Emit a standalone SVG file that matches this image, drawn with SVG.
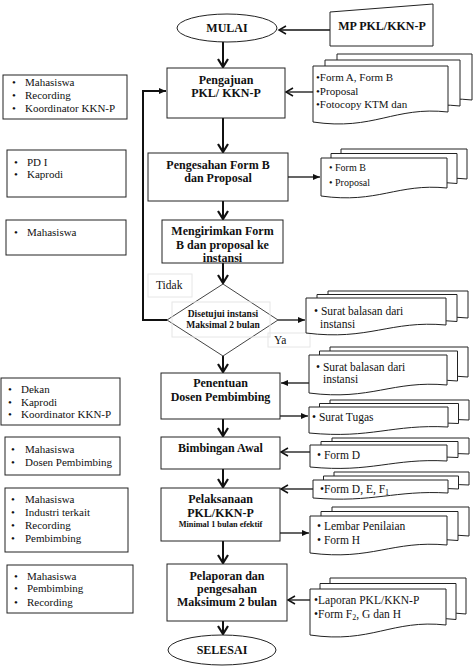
<svg xmlns="http://www.w3.org/2000/svg" width="474" height="671" viewBox="0 0 474 671">
<style>
.box{fill:#fff;stroke:#222;stroke-width:1}
.doc{fill:#fff;stroke:#222;stroke-width:1}
.faint{fill:none;stroke:#e6e6e6;stroke-width:1}
.b{font-family:"Liberation Serif",serif;font-weight:bold;font-size:12px;text-anchor:middle;fill:#111}
.t{font-family:"Liberation Serif",serif;font-size:11px;fill:#111}
.c{stroke:#111;fill:none}
.thick{stroke-width:2}
.thin{stroke-width:1.3}
</style>
<defs>
<marker id="chevD" markerUnits="userSpaceOnUse" viewBox="-11 -7 13 14" markerWidth="13" markerHeight="14" refX="0" refY="0" orient="auto">
<path d="M-8,-5 L0,0 L-8,5" fill="none" stroke="#111" stroke-width="2.2"/>
</marker>
<marker id="chev" markerUnits="userSpaceOnUse" viewBox="-10 -6 12 12" markerWidth="12" markerHeight="12" refX="0" refY="0" orient="auto">
<path d="M-7,-4 L0,0 L-7,4" fill="none" stroke="#111" stroke-width="1.5"/>
</marker>
<marker id="tri" markerUnits="userSpaceOnUse" viewBox="-8 -4 9 8" markerWidth="9" markerHeight="8" refX="0" refY="0" orient="auto">
<path d="M-7,-3 L0,0 L-7,3 Z" fill="#111"/>
</marker>
</defs>

<g id="connectors">
<line class="c thick" x1="223" y1="42" x2="223" y2="67" marker-end="url(#chevD)"/>
<line class="c thick" x1="223" y1="118" x2="223" y2="152" marker-end="url(#chevD)"/>
<line class="c thick" x1="223" y1="201" x2="223" y2="219" marker-end="url(#chevD)"/>
<line class="c thick" x1="223" y1="263" x2="223" y2="283" marker-end="url(#chevD)"/>
<line class="c thick" x1="223" y1="356" x2="223" y2="372" marker-end="url(#chevD)"/>
<line class="c thick" x1="223" y1="419" x2="223" y2="436" marker-end="url(#chevD)"/>
<line class="c thick" x1="223" y1="469" x2="223" y2="487" marker-end="url(#chevD)"/>
<line class="c thick" x1="223" y1="541" x2="223" y2="563" marker-end="url(#chevD)"/>
<line class="c thick" x1="223" y1="621" x2="223" y2="634" marker-end="url(#chevD)"/>
<line class="c thin" x1="330" y1="30" x2="279" y2="30" marker-end="url(#chev)"/>
<line class="c thin" x1="313" y1="92" x2="286" y2="92" marker-end="url(#chev)"/>
<polyline class="c thick" points="167,320 143,320 143,91 166,91" marker-end="url(#tri)"/>
<line class="c thin" x1="288" y1="177" x2="320" y2="177" marker-end="url(#tri)"/>
<line class="c thin" x1="278" y1="320" x2="305" y2="320" marker-end="url(#tri)"/>
<line class="c thin" x1="309" y1="383" x2="281" y2="383" marker-end="url(#tri)"/>
<line class="c thin" x1="280" y1="416" x2="308" y2="416" marker-end="url(#tri)"/>
<line class="c thin" x1="310" y1="452" x2="281" y2="452" marker-end="url(#chev)"/>
<line class="c thin" x1="313" y1="489" x2="281" y2="489" marker-end="url(#chev)"/>
<line class="c thin" x1="280" y1="533" x2="309" y2="533" marker-end="url(#tri)"/>
<line class="c thin" x1="310" y1="600" x2="288" y2="600" marker-end="url(#chev)"/>
</g>

<g id="mulai">
<ellipse class="box" cx="227" cy="28" rx="50" ry="14"/>
<text class="b" x="227" y="32">MULAI</text>
</g>
<g id="mp">
<polygon class="box" points="330,12 433,4 433,46 330,46"/>
<text class="b" x="382" y="30">MP PKL/KKN-P</text>
</g>

<g id="pengajuan">
<rect class="box" x="167" y="68" width="118" height="50"/>
<text class="b" x="226" y="84">Pengajuan</text>
<text class="b" x="226" y="97">PKL/ KKN-P</text>
</g>
<g id="pengesahan">
<rect class="box" x="148" y="153" width="140" height="48"/>
<text class="b" x="218" y="169">Pengesahan Form B</text>
<text class="b" x="218" y="182">dan Proposal</text>
</g>
<g id="mengirimkan">
<rect class="box" x="162" y="220" width="121" height="43"/>
<text class="b" x="222.5" y="235">Mengirimkan Form</text>
<text class="b" x="222.5" y="249">B dan proposal ke</text>
<text class="b" x="222.5" y="262">instansi</text>
</g>
<g id="tidak">
<rect class="faint" x="148" y="274" width="44" height="23"/>
<text class="t" x="156" y="289" style="font-size:11.5px">Tidak</text>
</g>
<g id="keputusan">
<polygon class="box" points="223,284 278,320 223,356 167,320" style="stroke:#444"/>
<rect class="faint" x="172" y="302" width="98" height="35"/>
<text class="b" x="223" y="316.5" style="font-size:9.5px">Disetujui instansi</text>
<text class="b" x="223" y="328" style="font-size:9.5px">Maksimal 2 bulan</text>
</g>
<g id="ya">
<rect class="faint" x="268" y="333" width="42" height="14"/>
<text class="t" x="274" y="344" style="font-size:11.5px">Ya</text>
</g>
<g id="penentuan">
<rect class="box" x="161" y="373" width="119" height="46"/>
<text class="b" x="220.5" y="387">Penentuan</text>
<text class="b" x="220.5" y="401">Dosen Pembimbing</text>
</g>
<g id="bimbingan">
<rect class="box" x="161" y="437" width="119" height="32"/>
<text class="b" x="220.5" y="452">Bimbingan Awal</text>
</g>
<g id="pelaksanaan">
<rect class="box" x="161" y="488" width="119" height="53"/>
<text class="b" x="220.5" y="503">Pelaksanaan</text>
<text class="b" x="220.5" y="517">PKL/KKN-P</text>
<text class="b" x="220.5" y="527" style="font-size:8.3px">Minimal 1 bulan efektif</text>
</g>
<g id="pelaporan">
<rect class="box" x="167" y="564" width="120" height="57"/>
<text class="b" x="227" y="580">Pelaporan dan</text>
<text class="b" x="227" y="593">pengesahan</text>
<text class="b" x="227" y="606">Maksimum 2 bulan</text>
</g>
<g id="selesai">
<ellipse class="box" cx="222" cy="650" rx="54" ry="15"/>
<text class="b" x="222" y="654">SELESAI</text>
</g>

<g id="actor1">
<rect class="box" x="3" y="75" width="124" height="44"/>
<text class="t" x="12" y="86">•</text><text class="t" x="25" y="86">Mahasiswa</text>
<text class="t" x="12" y="99">•</text><text class="t" x="25" y="99">Recording</text>
<text class="t" x="12" y="112">•</text><text class="t" x="25" y="112">Koordinator KKN-P</text>
</g>
<g id="actor2">
<rect class="box" x="7" y="150" width="119" height="47"/>
<text class="t" x="14" y="166">•</text><text class="t" x="27" y="166">PD I</text>
<text class="t" x="14" y="178">•</text><text class="t" x="27" y="178">Kaprodi</text>
</g>
<g id="actor3">
<rect class="box" x="6" y="220" width="120" height="35"/>
<text class="t" x="14" y="236">•</text><text class="t" x="27" y="236">Mahasiswa</text>
</g>
<g id="actor4">
<rect class="box" x="1" y="378" width="119" height="47"/>
<text class="t" x="8" y="393">•</text><text class="t" x="21" y="393">Dekan</text>
<text class="t" x="8" y="406">•</text><text class="t" x="21" y="406">Kaprodi</text>
<text class="t" x="8" y="418">•</text><text class="t" x="21" y="418">Koordinator KKN-P</text>
</g>
<g id="actor5">
<rect class="box" x="5" y="437" width="115" height="38"/>
<text class="t" x="11" y="453">•</text><text class="t" x="25" y="453">Mahasiswa</text>
<text class="t" x="11" y="466">•</text><text class="t" x="25" y="466">Dosen Pembimbing</text>
</g>
<g id="actor6">
<rect class="box" x="5" y="488" width="123" height="64"/>
<text class="t" x="11" y="503">•</text><text class="t" x="25" y="503">Mahasiswa</text>
<text class="t" x="11" y="516">•</text><text class="t" x="25" y="516">Industri terkait</text>
<text class="t" x="11" y="529">•</text><text class="t" x="25" y="529">Recording</text>
<text class="t" x="11" y="542">•</text><text class="t" x="25" y="542">Pembimbing</text>
</g>
<g id="actor7">
<rect class="box" x="7" y="565" width="126" height="48"/>
<text class="t" x="14" y="580">•</text><text class="t" x="27" y="580">Mahasiswa</text>
<text class="t" x="14" y="592">•</text><text class="t" x="27" y="592">Pembimbing</text>
<text class="t" x="14" y="606">•</text><text class="t" x="27" y="606">Recording</text>
</g>

<g id="doc1">
<path class="doc" d="M337,54 H472 V100 C418,94 398,119 337,110 Z"/>
<path class="doc" d="M325,60 H460 V106 C406,100 386,125 325,116 Z"/>
<path class="doc" d="M313,66 H448 V112 C394,106 374,131 313,122 Z"/>
<text class="t" x="316" y="81">•Form A, Form B</text>
<text class="t" x="316" y="94.5">•Proposal</text>
<text class="t" x="316" y="108">•Fotocopy KTM dan</text>
</g>
<g id="doc2">
<path class="doc" d="M341,149 H467 V179 C417,174 398,195 341,187 Z"/>
<path class="doc" d="M331,153.5 H457 V183.5 C407,178.5 388,199.5 331,191.5 Z"/>
<path class="doc" d="M321,158 H447 V188 C397,183 378,204 321,196 Z"/>
<text class="t" x="329" y="170.5" style="font-size:10px">• Form B</text>
<text class="t" x="329" y="185.5" style="font-size:10px">• Proposal</text>
</g>
<g id="doc3">
<path class="doc" d="M328,291 H468 V318 C412,313 391,334 328,326 Z"/>
<path class="doc" d="M317,294.5 H457 V321.5 C401,316.5 380,337.5 317,329.5 Z"/>
<path class="doc" d="M306,298 H446 V325 C390,320 369,341 306,333 Z"/>
<text class="t" x="314" y="315" style="font-size:11.5px">• Surat balasan dari</text>
<text class="t" x="320" y="327.5" style="font-size:11.5px">instansi</text>
</g>
<g id="doc4">
<path class="doc" d="M330,347 H468 V377 C413,372 392,393 330,385 Z"/>
<path class="doc" d="M319.5,351 H457.5 V381 C402.5,376 381.5,397 319.5,389 Z"/>
<path class="doc" d="M309,355 H447 V385 C392,380 371,401 309,393 Z"/>
<text class="t" x="316" y="371" style="font-size:11.5px">• Surat balasan dari</text>
<text class="t" x="323" y="382.5" style="font-size:11.5px">instansi</text>
</g>
<g id="doc5">
<path class="doc" d="M330,400 H469 V420 C413,417 392.5,432 330,426 Z"/>
<path class="doc" d="M319.5,403.5 H458.5 V423.5 C402.5,420.5 382,435.5 319.5,429.5 Z"/>
<path class="doc" d="M309,407 H448 V427 C392,424 371.5,439 309,433 Z"/>
<text class="t" x="312" y="421" style="font-size:11.5px">• Surat Tugas</text>
</g>
<g id="doc6">
<path class="doc" d="M332,438 H469 V454 C414,451 394,466 332,460 Z"/>
<path class="doc" d="M321,441.5 H458 V457.5 C403,454.5 383,469.5 321,463.5 Z"/>
<path class="doc" d="M310,445 H447 V461 C392,458 372,473 310,467 Z"/>
<text class="t" x="317" y="459" style="font-size:11.5px">• Form D</text>
</g>
<g id="doc7">
<path class="doc" d="M334,472 H469 V485 C415,482 395,495 334,490 Z"/>
<path class="doc" d="M323.5,476 H458.5 V489 C404.5,486 384.5,499 323.5,494 Z"/>
<path class="doc" d="M313,480 H448 V493 C394,490 374,503 313,498 Z"/>
<text class="t" x="320" y="493" style="font-size:11.5px">•Form D, E, F<tspan dy="2" style="font-size:8px">1</tspan></text>
</g>
<g id="doc8">
<path class="doc" d="M332,507 H469 V536 C414,531 394,552 332,544 Z"/>
<path class="doc" d="M321,511.5 H458 V540.5 C403,535.5 383,556.5 321,548.5 Z"/>
<path class="doc" d="M310,516 H447 V545 C392,540 372,561 310,553 Z"/>
<text class="t" x="317" y="530" style="font-size:11.5px">• Lembar Penilaian</text>
<text class="t" x="317" y="544" style="font-size:11.5px">• Form H</text>
</g>
<g id="doc9">
<path class="doc" d="M330,578 H466 V614 C412,608 391,633 330,624 Z"/>
<path class="doc" d="M320,583.5 H456 V619.5 C402,613.5 381,638.5 320,629.5 Z"/>
<path class="doc" d="M310,589 H446 V625 C392,619 371,644 310,635 Z"/>
<text class="t" x="314" y="604" style="font-size:11.5px">•Laporan PKL/KKN-P</text>
<text class="t" x="314" y="617.5" style="font-size:11.5px">•Form F<tspan dy="2" style="font-size:8px">2</tspan><tspan dy="-2">, G dan H</tspan></text>
</g>
</svg>
